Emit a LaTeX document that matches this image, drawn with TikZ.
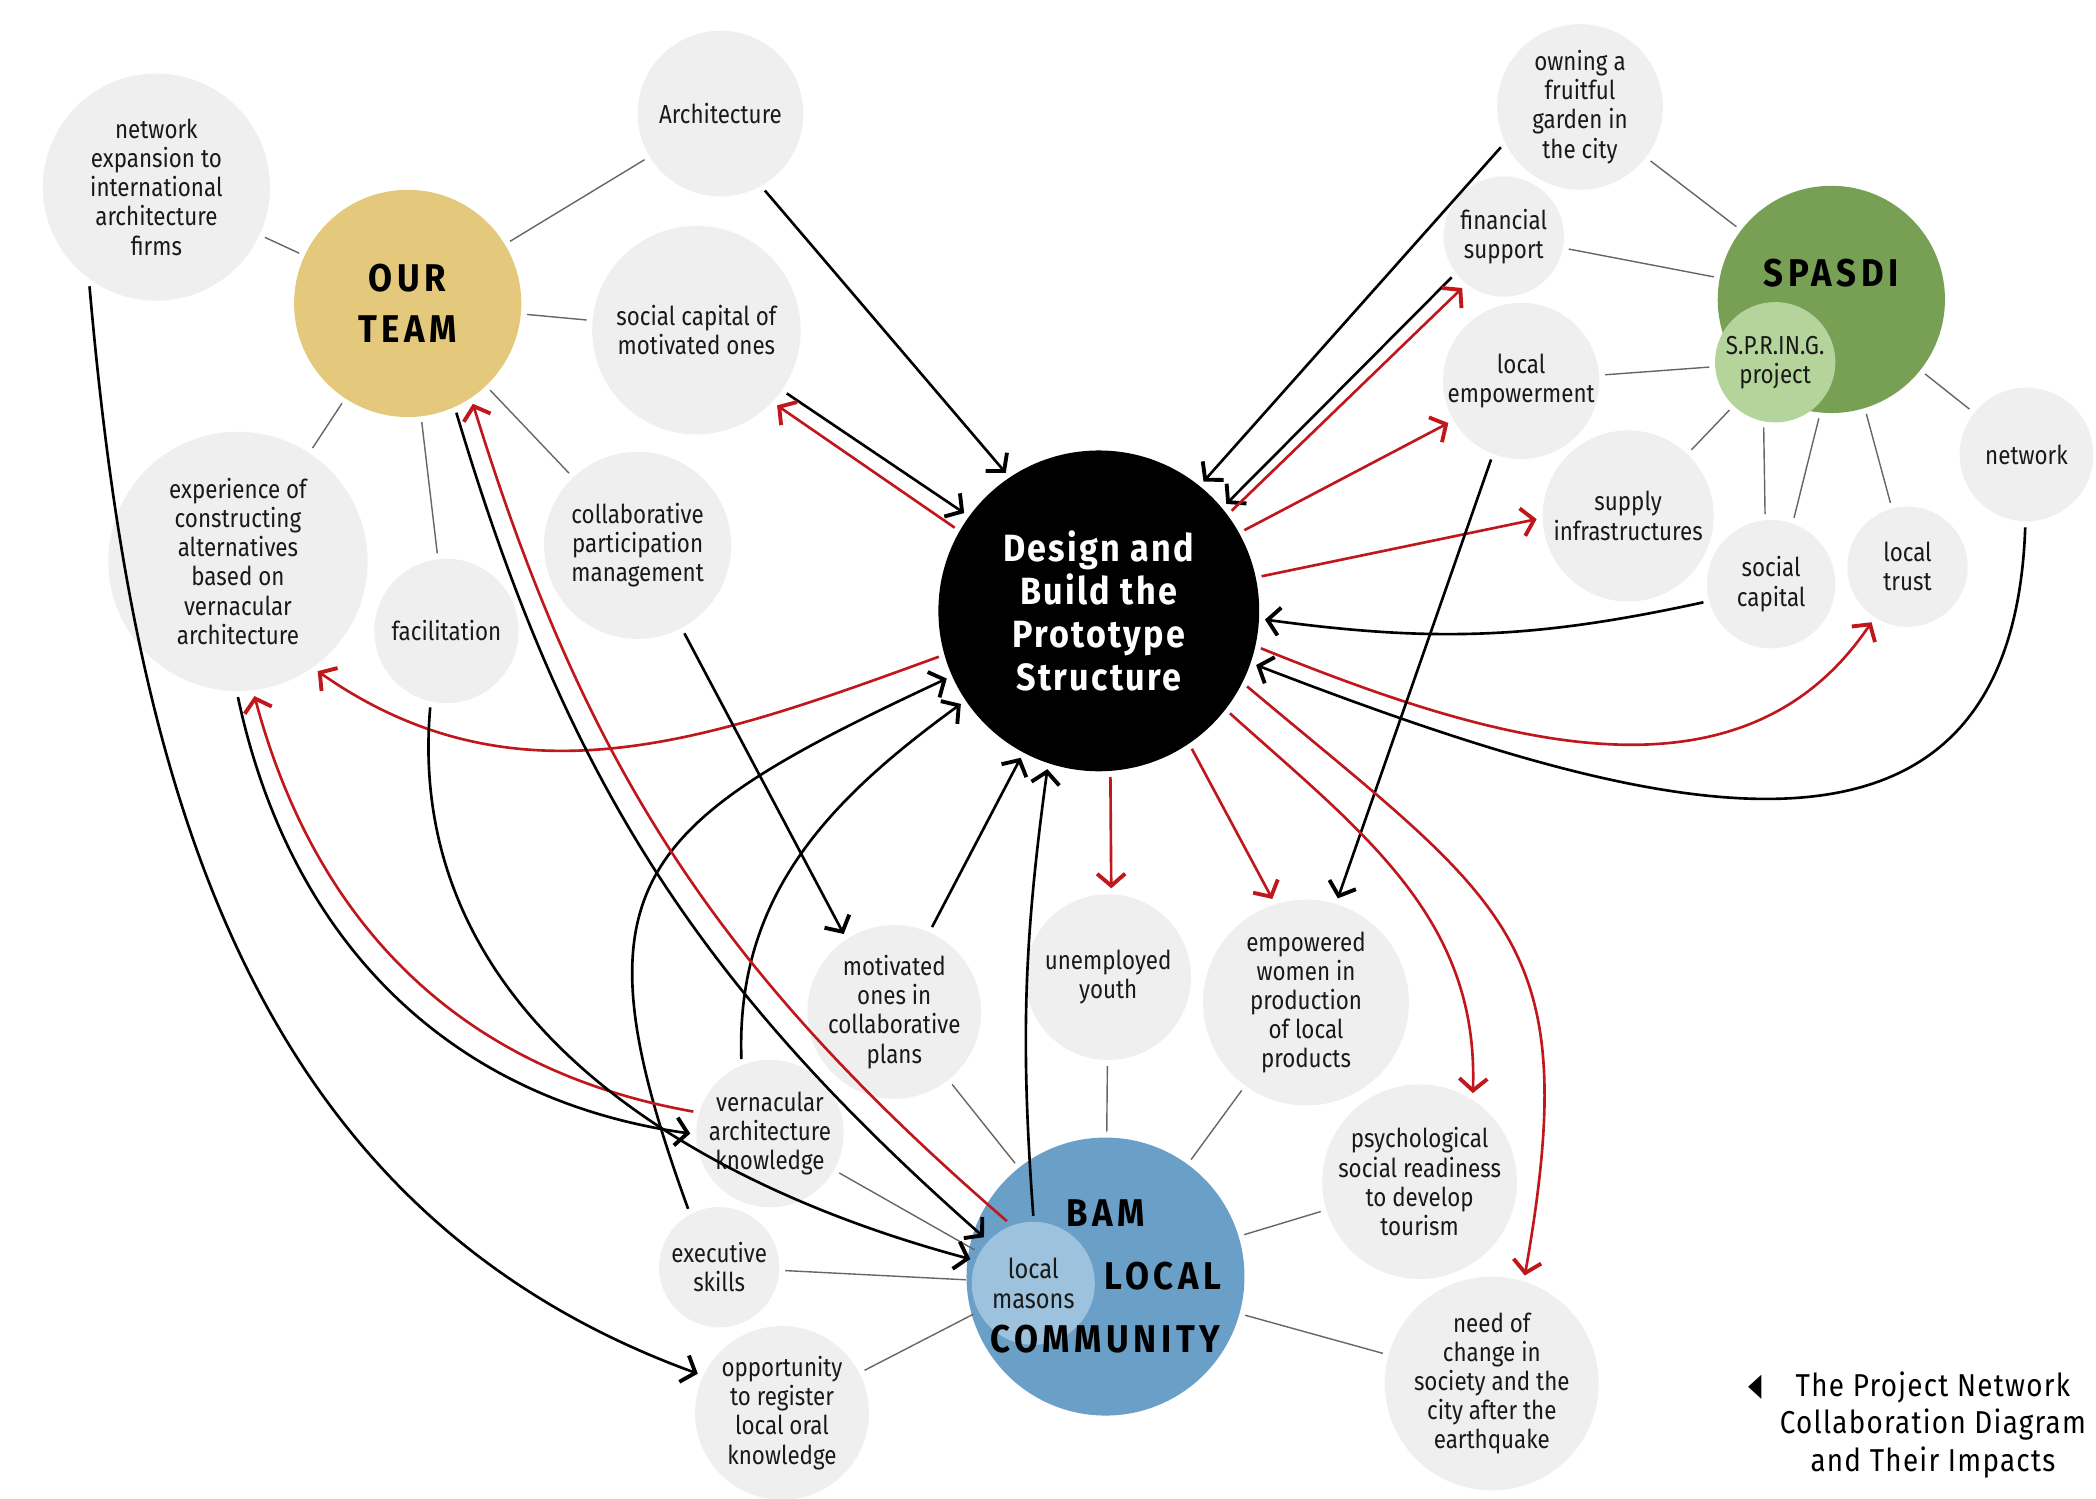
\documentclass[tikz,border=0pt]{standalone}
\usepackage{fontspec}
\setmainfont{Fira Sans}[FakeStretch=0.86]
\newfontfamily\headfont{Fira Sans}[FakeStretch=0.9,LetterSpace=12]
\newfontfamily\capfont{Fira Sans}[FakeStretch=0.9,LetterSpace=6]
\newfontfamily\notefont{Fira Sans}[FakeStretch=0.88,LetterSpace=4]
\newfontfamily\symfont{DejaVu Sans}
\usetikzlibrary{arrows.meta}

\definecolor{bubgray}{HTML}{EFEFEF}
\definecolor{teamgold}{HTML}{E4C97C}
\definecolor{spasgreen}{HTML}{77A055}
\definecolor{springgreen}{HTML}{B4D49C}
\definecolor{bamblue}{HTML}{6AA0C8}
\definecolor{masonblue}{HTML}{9DC2DD}
\definecolor{arrred}{HTML}{C0171D}

\tikzset{
  bub/.style={circle, fill=bubgray, inner sep=0pt, outer sep=0.06cm,
    minimum size=#1*0.026734cm, align=center, text=black!90,
    font=\fontsize{7.4}{8.3}\selectfont},
  hub/.style={circle, inner sep=0pt, outer sep=0.06cm,
    minimum size=#1*0.026734cm, align=center,
    font=\headfont\bfseries\fontsize{11}{14.5}\selectfont},
  spoke/.style={draw=black!60, line width=0.4pt},
  inflow/.style={draw=black, line width=0.75pt,
    -{Straight Barb[length=1.2mm,width=2.8mm,line width=1.1pt]}},
  impact/.style={inflow, draw=arrred},
}

\begin{document}
\begin{tikzpicture}[x=0.013367cm, y=-0.013367cm]
\useasboundingbox (0,0) rectangle (1568,1121);

% our team side
\node[bub=85] (netexp) at (117,140) {network\\expansion to\\international\\architecture\\firms};
\node[bub=62] (arch) at (539,85) {Architecture};
\node[hub=85, fill=teamgold] (team) at (305,227) {OUR\\TEAM};
\node[bub=78] (socmot) at (521,247) {social capital of\\motivated ones};
\node[bub=97] (exper) at (178,420) {experience of\\constructing\\alternatives\\based on\\vernacular\\architecture};
\node[bub=54] (facil) at (334,472) {facilitation};
\node[bub=70] (collab) at (477,408) {collaborative\\participation\\management};

% the project
\node[hub=120, fill=black, text=white, font=\capfont\bfseries\fontsize{10.8}{12.2}\selectfont] (design) at (822,457) {Design and\\Build the\\Prototype\\Structure};

% spasdi side
\node[bub=62] (garden) at (1182,80) {owning a\\fruitful\\garden in\\the city};
\node[bub=45] (finance) at (1125,177) {financial\\support};
\node[hub=85, fill=spasgreen] (spasdi) at (1370,224) {\raisebox{0.54cm}{SPASDI}};
\node[bub=45, fill=springgreen] (spring) at (1328,271) {S.P.R.IN.G.\\project};
\node[bub=58] (locemp) at (1138,285) {local\\empowerment};
\node[bub=50] (network) at (1516,340) {network};
\node[bub=64] (supply) at (1218,386) {supply\\infrastructures};
\node[bub=48] (soccap) at (1325,437) {social\\capital};
\node[bub=45] (trust) at (1427,424) {local\\trust};

% community side
\node[bub=57] (motplan) at (669,757) {motivated\\ones in\\collaborative\\plans};
\node[bub=62] (youth) at (829,731) {unemployed\\youth};
\node[bub=77] (women) at (977,750) {empowered\\women in\\production\\of local\\products};
\node[bub=71] (psych) at (1062,884) {psychological\\social readiness\\to develop\\tourism};
\node[bub=55] (vern) at (576,848) {vernacular\\architecture\\knowledge};
\node[hub=103, fill=bamblue, font=\headfont\bfseries\fontsize{11}{18}\selectfont,
  path picture={\fill[masonblue] ([xshift=-0.722cm,yshift=-0.067cm]path picture bounding box.center) circle[radius=0.615cm];}] (bam) at (827,955) {BAM\\\hspace*{1.15cm}LOCAL\\COMMUNITY};
\node[bub=46, fill=none, font=\fontsize{7.8}{8.6}\selectfont] (masons) at (773,960) {local\\masons};
\node[bub=45] (exec) at (538,948) {executive\\skills};
\node[bub=65] (oppor) at (585,1057) {opportunity\\to register\\local oral\\knowledge};
\node[bub=80] (change) at (1116,1035) {need of\\change in\\society and the\\city after the\\earthquake};

% caption
\node[font=\symfont\fontsize{9}{9}\selectfont] (capmark) at (1313,1038) {\scalebox{0.55}[1]{◀}};
\node[align=center, font=\notefont\fontsize{9}{10.6}\selectfont] (caption) at (1446,1066) {The Project Network\\Collaboration Diagram\\and Their Impacts};

% spokes
\foreach \a/\b in {team/netexp, team/arch, team/socmot, team/exper, team/facil, team/collab,
  spasdi/garden, spasdi/finance, spasdi/network, spring/locemp, spring/supply,
  bam/motplan, bam/youth, bam/women, bam/psych, bam/change,
  masons/vern, masons/exec, masons/oppor}
  \draw[spoke] (\a) -- (\b);
\draw[spoke] (soccap.95) -- (spring.260);
\draw[spoke] (soccap.71) -- (spasdi.264);
\draw[spoke] (trust.105) -- (spasdi.287);

% arrows into the project and out of it
\draw[inflow] (arch.-60) -- (design.124);
\draw[inflow] (socmot.-35) -- (design.144);
\draw[impact] (design.150) -- (socmot.-43);
\draw[inflow] (garden.207) -- (design.51);
\draw[inflow] (finance.218) -- (design.40);
\draw[impact] (design.37) -- (finance.231);
\draw[impact] (design.29) -- (locemp.210);
\draw[impact] (design.12) -- (supply.182);
\draw[inflow] (soccap.195) to[bend left=10] (design.-3);
\draw[impact] (design.-13) to[out=-22,in=-124] (trust.237);
\draw[inflow] (network.-91) to[out=-92,in=-21,looseness=1.3] (design.-19);
\draw[inflow] (locemp.249) -- (women.73);
\draw[impact] (design.-86) -- (youth.88);
\draw[impact] (design.-56) -- (women.108);
\draw[impact] (design.-38) to[out=-42,in=88] (psych.59);
\draw[impact] (design.-27) to[out=-40,in=80,looseness=1.35] (change.73);
\draw[impact] (design.196) to[out=200,in=-35] (exper.-54);
\draw[inflow] (collab.-62) -- (motplan.123);
\draw[inflow] (motplan.66) -- (design.242);
\draw[inflow] (masons.90) to[bend left=6] (design.252);
\draw[inflow] (vern.111) to[out=92,in=216] (design.214);
\draw[inflow] (exec.118) to[out=110,in=205,looseness=1.5] (design.204);

% our team to the community
\draw[inflow] (team.-66) to[bend right=16] (masons.137);
\draw[impact] (masons.113) to[bend left=16] (team.-57);
\draw[inflow] (exper.-90) to[out=-78,in=172] (vern.180);
\draw[impact] (vern.164) to[out=170,in=-75] (exper.-83);
\draw[inflow] (facil.-102) to[out=-95,in=165] (masons.159);
\draw[inflow] (netexp.236) to[out=-85,in=160] (oppor.155);
\end{tikzpicture}
\end{document}
